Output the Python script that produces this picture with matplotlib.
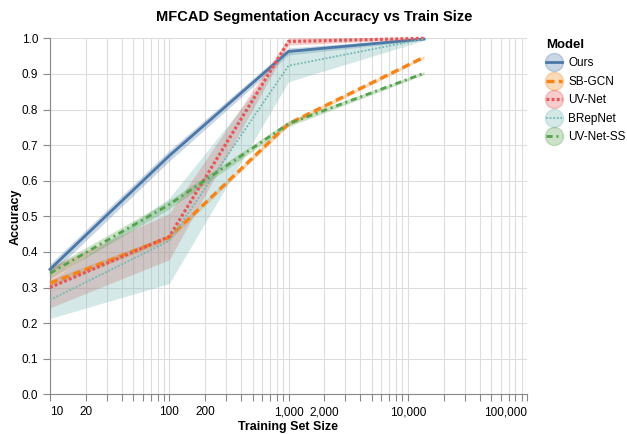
import matplotlib
matplotlib.use("Agg")
import matplotlib.pyplot as plt
from matplotlib.lines import Line2D
from matplotlib.legend_handler import HandlerTuple

plt.rcParams["font.family"] = ["Liberation Sans", "DejaVu Sans"]

# data
train_sizes = [10, 100, 1000, 13700]
models = ["Ours", "SB-GCN", "UV-Net", "BRepNet", "UV-Net-SS"]
acc_ours = [0.351, 0.670, 0.963, 0.998]
acc_sbgcn = [0.312, 0.441, 0.760, 0.947]
acc_uvnet = [0.300, 0.443, 0.991, 1.000]
acc_brepnet = [0.265, 0.431, 0.923, 0.998]
acc_uvnet_ss = [0.340, 0.533, 0.760, 0.902]
# half-width of the shaded band around each curve
err_ours = [0.015, 0.015, 0.010, 0.003]
err_sbgcn = [0.010, 0.008, 0.006, 0.004]
err_uvnet = [0.057, 0.065, 0.010, 0.002]
err_brepnet = [0.052, 0.120, 0.045, 0.004]
err_uvnet_ss = [0.015, 0.012, 0.008, 0.004]

colors = ["#4c78a8", "#f58518", "#e45756", "#72b7b2", "#54a24b"]
styles = ["-", (0, (2.4, 1.3)), (0, (0.9, 0.7)), (0, (1, 1)), (0, (2.2, 1.4, 0.7, 1.4))]
widths = [2.0, 2.4, 2.3, 1.3, 2.0]
series = [
    (acc_ours, err_ours),
    (acc_sbgcn, err_sbgcn),
    (acc_uvnet, err_uvnet),
    (acc_brepnet, err_brepnet),
    (acc_uvnet_ss, err_uvnet_ss),
]

fig = plt.figure(figsize=(6.27, 4.34), dpi=100)
ax = fig.add_axes([50 / 627, 1 - 394.3 / 434, 477 / 627, 356 / 434])

for (acc, err), c in zip(series, colors):
    lo = [a - e for a, e in zip(acc, err)]
    hi = [a + e for a, e in zip(acc, err)]
    ax.fill_between(train_sizes, lo, hi, color=c, alpha=0.3, lw=0, clip_on=False)

handles = []
for (acc, err), c, ls, lw, name in zip(series, colors, styles, widths, models):
    ax.plot(train_sizes, acc, color=c, ls=ls, lw=lw, clip_on=False, zorder=3,
            dash_capstyle="butt")
    dot = Line2D([], [], ls="none", marker="o", ms=13, mfc=c, mec=c, alpha=0.3)
    ln = Line2D([], [], color=c, ls=ls, lw=lw)
    handles.append((dot, ln))

ax.set_xscale("log")
ax.set_xlim(10, 100000)
ax.set_ylim(0, 1)

xt = []
xl = []
for dec in [10, 100, 1000, 10000]:
    for m in range(1, 10):
        xt.append(dec * m)
        if dec * m in (10, 20, 100, 200, 1000, 2000, 10000):
            xl.append(f"{dec * m:,}")
        else:
            xl.append("")
xt.append(100000)
xl.append("100,000")
ax.xaxis.set_minor_locator(matplotlib.ticker.NullLocator())
ax.set_xticks(xt, xl)
labs = ax.get_xticklabels()
labs[0].set_ha("left")
labs[-1].set_ha("right")

yt = [i / 10 for i in range(11)]
ax.set_yticks(yt, [f"{v:.1f}" for v in yt])

ax.grid(True, color="#dddddd", lw=0.8)
ax.set_axisbelow(True)
for s in ["top", "right"]:
    ax.spines[s].set_visible(False)
for s in ["left", "bottom"]:
    ax.spines[s].set_color("#888888")
ax.tick_params(colors="#888888", labelcolor="black", labelsize=8.5, length=5, width=0.8)

ax.set_xlabel("Training Set Size", fontsize=9, fontweight="bold", labelpad=2)
ax.set_ylabel("Accuracy", fontsize=9, fontweight="bold", labelpad=0)
fig.text(314 / 627, 1 - 17 / 434, "MFCAD Segmentation Accuracy vs Train Size",
         ha="center", va="center", fontsize=10.5, fontweight="bold")

leg = fig.legend(handles, models, handler_map={tuple: HandlerTuple(ndivide=1)},
                 loc="upper left", bbox_to_anchor=(541 / 627, 1 - 34 / 434),
                 frameon=False, title="Model", fontsize=8.5, handlelength=1.4,
                 handletextpad=0.5, labelspacing=0.55, borderaxespad=0)
leg.get_title().set_fontweight("bold")
leg.get_title().set_fontsize(9.5)
leg._legend_box.align = "left"

fig.savefig("out.png", dpi=100)
